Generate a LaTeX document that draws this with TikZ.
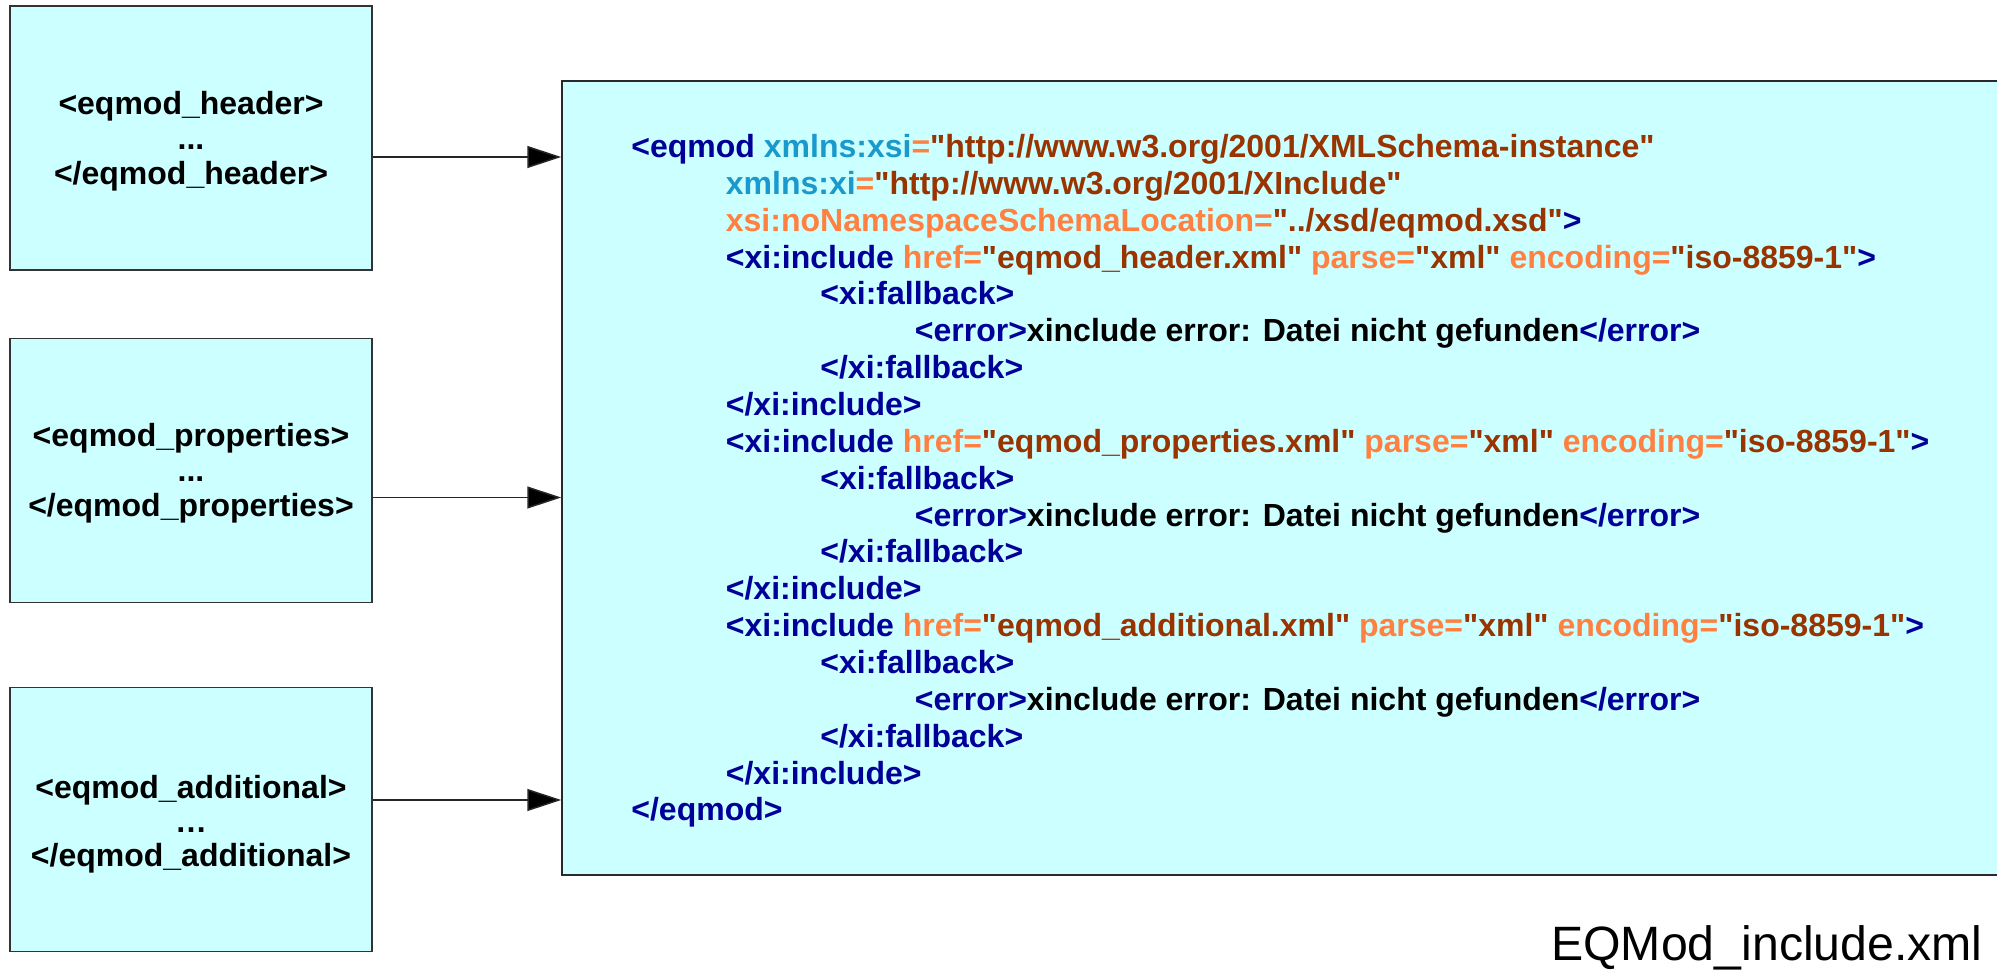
\documentclass[tikz,border=0pt]{standalone}
\usepackage{fontspec}
\setmainfont{Liberation Sans}[Ligatures=TeXOff]
\usetikzlibrary{arrows.meta}
\definecolor{boxfill}{HTML}{CCFFFF}
\definecolor{tagc}{HTML}{000099}
\definecolor{attc}{HTML}{1A99CC}
\definecolor{eqc}{HTML}{FF8040}
\definecolor{valc}{HTML}{993300}
\definecolor{edgec}{HTML}{333333}
\newcommand\xtag[1]{\textcolor{tagc}{#1}}
\newcommand\xatt[1]{\textcolor{attc}{#1}}
\newcommand\xeqo[1]{\textcolor{eqc}{#1}}
\newcommand\xval[1]{\textcolor{valc}{#1}}
\newcommand\codeline[4]{\node[codetext] (#1) at ({631+94.5*#3},{157.5+36.86*(#2-1)}) {#4};}
\newcommand\errline{\xtag{<error>}xinclude error: Datei nicht gefunden\xtag{</error>}}
\tikzset{
  smallbox/.style={draw=edgec, line width=0.75pt, fill=boxfill, minimum width=181pt,
    minimum height=132pt, inner sep=0pt},
  boxtext/.style={inner sep=0pt, align=center,
    font=\fontsize{16}{17.5}\selectfont\bfseries},
  bigbox/.style={draw=edgec!80!black, line width=0.75pt, fill=boxfill, minimum width=724pt,
    minimum height=397pt, inner sep=0pt},
  codetext/.style={anchor=base west, inner sep=0pt,
    font=\fontsize{16}{18.43}\selectfont\bfseries},
  conn/.style={draw=black!85, line width=0.75pt, -{Triangle[length=17pt,width=11pt,fill=black]}},
  caption/.style={anchor=base east, inner sep=0pt, font=\fontsize{24.1}{28}\selectfont}
}
\begin{document}
\begin{tikzpicture}[x=0.5pt,y=-0.5pt]
\useasboundingbox (0,0) rectangle (1997,975);
\node[smallbox] (h) at (191,138) {};
\node[smallbox] (p) at (191,470.5) {};
\node[smallbox] (a) at (191,819.5) {};
\node[boxtext] (ht) at ([yshift=-1.5pt]h.center) {<eqmod\_header>\\...\\</eqmod\_header>};
\node[boxtext] (pt) at ([yshift=-1.5pt]p.center) {<eqmod\_properties>\\...\\</eqmod\_properties>};
\node[boxtext,font=\fontsize{16}{17}\selectfont\bfseries] (at) at ([yshift=-2.5pt]a.center) {<eqmod\_additional>\\…\\</eqmod\_additional>};
\node[bigbox] (big) at (1286,478) {};
\draw[conn] ([yshift=-9.5pt]h.east) -- ([yshift=-9.5pt]h.east -| big.west);
\draw[conn] ([yshift=-13.5pt]p.east) -- ([yshift=-13.5pt]p.east -| big.west);
\draw[conn] ([yshift=9.75pt]a.east) -- ([yshift=9.75pt]a.east -| big.west);
\codeline{l1}{1}{0}{\xtag{<eqmod} \xatt{xmlns:xsi}\xeqo{=}\xval{"http://www.w3.org/2001/XMLSchema-instance"}}
\codeline{l2}{2}{1}{\xatt{xmlns:xi}\xeqo{=}\xval{"http://www.w3.org/2001/XInclude"}}
\codeline{l3}{3}{1}{\xeqo{xsi:noNamespaceSchemaLocation=}\xval{"../xsd/eqmod.xsd"}\xtag{>}}
\codeline{l4}{4}{1}{\xtag{<xi:include} \xeqo{href=}\xval{"eqmod\_header.xml"} \xeqo{parse=}\xval{"xml"} \xeqo{encoding=}\xval{"iso-8859-1"}\xtag{>}}
\codeline{l5}{5}{2}{\xtag{<xi:fallback>}}
\codeline{l6}{6}{3}{\errline}
\codeline{l7}{7}{2}{\xtag{</xi:fallback>}}
\codeline{l8}{8}{1}{\xtag{</xi:include>}}
\codeline{l9}{9}{1}{\xtag{<xi:include} \xeqo{href=}\xval{"eqmod\_properties.xml"} \xeqo{parse=}\xval{"xml"} \xeqo{encoding=}\xval{"iso-8859-1"}\xtag{>}}
\codeline{l10}{10}{2}{\xtag{<xi:fallback>}}
\codeline{l11}{11}{3}{\errline}
\codeline{l12}{12}{2}{\xtag{</xi:fallback>}}
\codeline{l13}{13}{1}{\xtag{</xi:include>}}
\codeline{l14}{14}{1}{\xtag{<xi:include} \xeqo{href=}\xval{"eqmod\_additional.xml"} \xeqo{parse=}\xval{"xml"} \xeqo{encoding=}\xval{"iso-8859-1"}\xtag{>}}
\codeline{l15}{15}{2}{\xtag{<xi:fallback>}}
\codeline{l16}{16}{3}{\errline}
\codeline{l17}{17}{2}{\xtag{</xi:fallback>}}
\codeline{l18}{18}{1}{\xtag{</xi:include>}}
\codeline{l19}{19}{0}{\xtag{</eqmod>}}
\node[caption] (lbl) at (1983,960) {EQMod\_include.xml};
\end{tikzpicture}
\end{document}
